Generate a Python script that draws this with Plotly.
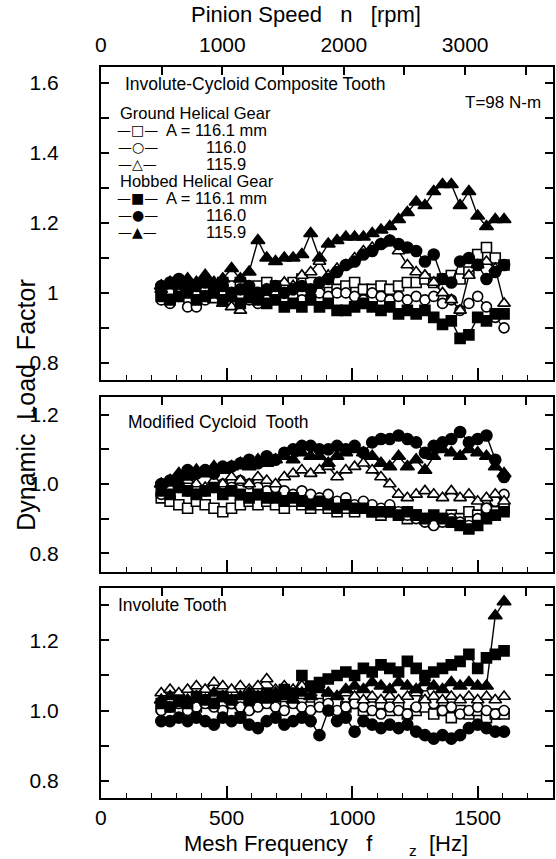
import plotly.graph_objects as go

# ---------------- data ----------------
TEETH = 29  # pinion teeth: mesh freq = n * z / 60
freq = [240, 275, 310, 345, 380, 415, 450, 485, 520, 555,
        590, 625, 660, 695, 730, 765, 800, 835, 870, 905,
        940, 975, 1010, 1045, 1080, 1115, 1150, 1185, 1220, 1255,
        1290, 1325, 1360, 1395, 1430, 1465, 1500, 1535, 1570, 1605]

# Panel 1: Involute-Cycloid Composite Tooth
top_GS = [1.00,1.01,1.00,1.02,1.01,1.02,1.00,1.03,1.02,1.03,1.01,1.02,1.03,1.02,1.01,1.03,1.04,1.03,1.02,1.03,
          1.01,1.02,1.03,1.01,1.01,1.02,1.01,1.02,1.03,1.03,1.04,1.03,1.04,1.05,1.04,1.06,1.11,1.13,1.10,1.08]
top_GC = [0.98,0.97,0.99,0.96,0.96,0.98,0.99,0.98,0.97,0.99,0.98,0.97,0.98,0.99,0.98,0.99,0.98,0.99,1.00,0.99,
          1.00,1.00,0.99,0.98,1.00,0.99,0.98,0.99,0.98,0.99,0.98,0.99,0.97,0.98,0.95,0.97,0.99,0.96,0.93,0.90]
top_GT = [1.01,1.02,1.00,1.01,1.00,0.99,0.98,0.97,0.96,0.95,0.98,0.99,1.01,1.00,1.03,1.02,1.05,1.06,1.09,1.05,
          1.07,1.08,1.10,1.12,1.13,1.14,1.15,1.12,1.08,1.06,1.05,1.03,1.00,0.98,0.95,1.05,1.08,1.09,1.07,0.97]
top_HS = [0.99,0.98,0.99,1.00,0.98,0.99,1.00,0.98,0.99,0.97,0.99,0.98,0.97,0.98,0.96,0.97,0.96,0.98,0.96,0.97,
          0.95,0.95,0.96,0.97,0.96,0.95,0.96,0.94,0.95,0.94,0.95,0.93,0.91,0.92,0.87,0.88,0.93,0.92,0.94,0.94]
top_HC = [1.02,1.03,1.04,1.03,1.02,1.03,1.01,1.02,1.00,1.01,1.02,1.00,1.01,1.02,1.00,1.01,1.02,1.01,1.03,1.04,
          1.06,1.08,1.09,1.11,1.12,1.14,1.15,1.14,1.13,1.12,1.09,1.11,1.04,1.03,1.09,1.10,1.08,1.04,1.06,1.08]
top_HT = [1.02,1.03,1.02,1.04,1.03,1.05,1.03,1.04,1.07,1.04,1.06,1.15,1.10,1.09,1.10,1.10,1.11,1.17,1.10,1.14,
          1.15,1.16,1.16,1.16,1.17,1.18,1.19,1.21,1.23,1.26,1.25,1.29,1.31,1.31,1.25,1.29,1.22,1.19,1.21,1.21]

# Panel 2: Modified Cycloid Tooth
mid_GS = [0.96,0.95,0.94,0.93,0.95,0.94,0.93,0.92,0.93,0.94,0.95,0.94,0.95,0.94,0.93,0.95,0.94,0.93,0.94,0.93,
          0.92,0.93,0.92,0.93,0.92,0.91,0.92,0.91,0.90,0.91,0.90,0.89,0.90,0.91,0.90,0.92,0.91,0.93,0.92,0.93]
mid_GC = [0.97,0.98,0.99,0.98,0.97,0.98,0.99,1.00,0.99,1.01,1.00,0.99,0.98,0.99,0.98,0.97,0.98,0.97,0.96,0.97,
          0.95,0.96,0.94,0.95,0.94,0.93,0.94,0.92,0.91,0.90,0.89,0.88,0.89,0.90,0.89,0.88,0.90,0.93,0.95,0.97]
mid_GT = [1.00,0.99,1.00,1.01,1.00,0.99,1.01,1.00,1.02,1.01,1.00,1.02,1.01,1.00,1.02,1.03,1.04,1.03,1.04,1.05,
          1.02,1.04,1.05,1.06,1.04,1.02,1.00,0.97,0.96,0.97,0.98,0.97,0.96,0.98,0.96,0.97,0.95,0.96,0.97,0.95]
mid_HS = [0.98,0.97,0.99,0.98,0.97,0.98,0.99,0.97,0.98,0.97,0.96,0.97,0.96,0.96,0.95,0.96,0.95,0.94,0.95,0.94,
          0.93,0.94,0.93,0.93,0.92,0.92,0.92,0.91,0.92,0.91,0.90,0.91,0.90,0.89,0.88,0.87,0.88,0.90,0.91,0.92]
mid_HC = [1.00,1.01,1.02,1.04,1.03,1.04,1.03,1.05,1.05,1.06,1.07,1.06,1.08,1.07,1.09,1.10,1.11,1.11,1.10,1.10,
          1.11,1.10,1.11,1.09,1.12,1.13,1.13,1.14,1.13,1.12,1.09,1.11,1.12,1.13,1.15,1.12,1.13,1.14,1.07,1.02]
mid_HT = [1.00,1.01,1.03,1.02,1.04,1.03,1.05,1.04,1.05,1.06,1.05,1.07,1.06,1.07,1.08,1.07,1.09,1.08,1.08,1.06,
          1.08,1.09,1.10,1.09,1.08,1.06,1.05,1.08,1.05,1.07,1.04,1.08,1.10,1.09,1.08,1.10,1.09,1.08,1.05,1.03]

# Panel 3: Involute Tooth
bot_GS = [1.01,1.02,1.03,1.02,1.01,1.03,1.02,1.04,1.02,1.03,1.01,1.02,1.03,1.02,1.04,1.03,1.02,1.01,1.02,1.03,
          1.02,1.01,1.02,1.00,1.01,1.02,1.00,1.01,0.99,1.00,1.01,0.99,1.00,0.98,1.00,0.99,1.00,0.98,0.99,0.99]
bot_GC = [1.00,1.01,1.02,1.00,1.01,1.02,1.01,1.00,1.02,1.01,1.00,1.01,1.02,1.01,1.00,1.02,1.01,1.00,1.01,1.02,
          1.00,1.01,1.02,1.01,1.00,0.99,1.01,1.00,0.99,1.01,1.07,1.02,1.00,1.01,0.99,1.00,1.01,1.00,0.99,1.00]
bot_GT = [1.05,1.06,1.05,1.06,1.07,1.06,1.08,1.07,1.06,1.07,1.06,1.07,1.09,1.06,1.07,1.06,1.07,1.05,1.06,1.05,
          1.04,1.05,1.04,1.03,1.04,1.03,1.04,1.03,1.04,1.05,1.03,1.04,1.03,1.04,1.03,1.04,1.03,1.04,1.03,1.04]
bot_HS = [1.02,1.01,1.03,1.02,1.04,1.03,1.02,1.04,1.03,0.98,1.03,1.04,1.05,1.04,1.06,1.05,1.10,1.07,1.08,1.09,
          1.10,1.11,1.10,1.12,1.11,1.13,1.12,1.11,1.14,1.12,1.10,1.11,1.12,1.13,1.14,1.16,1.12,1.15,1.16,1.17]
bot_HC = [0.97,0.97,0.98,0.97,0.98,0.97,0.96,0.98,0.97,0.98,0.96,0.95,0.97,0.98,0.96,0.97,0.98,0.97,0.93,1.00,
          0.97,0.98,0.94,0.97,0.96,0.95,0.96,0.95,0.96,0.94,0.93,0.92,0.93,0.92,0.93,0.95,0.96,0.95,0.94,0.94]
bot_HT = [1.03,1.04,1.02,1.03,1.04,1.03,1.05,1.04,1.03,1.04,1.05,1.04,1.03,1.05,1.04,1.03,1.05,1.04,1.06,1.05,
          1.04,1.06,1.07,1.06,1.08,1.07,1.06,1.08,1.07,1.06,1.08,1.07,1.06,1.08,1.07,1.08,1.07,1.07,1.27,1.31]

panels = [
    [top_GS, top_GC, top_GT, top_HS, top_HC, top_HT],
    [mid_GS, mid_GC, mid_GT, mid_HS, mid_HC, mid_HT],
    [bot_GS, bot_GC, bot_GT, bot_HS, bot_HC, bot_HT],
]
series_names = ["Ground A=116.1 mm", "Ground 116.0", "Ground 115.9",
                "Hobbed A=116.1 mm", "Hobbed 116.0", "Hobbed 115.9"]
symbols = ["square", "circle", "triangle-up", "square", "circle", "triangle-up"]
fills = ["white", "white", "white", "black", "black", "black"]
sizes = [10, 10, 11, 10, 11, 12]

panel_titles = ["Involute-Cycloid Composite Tooth", "Modified Cycloid\u00a0 Tooth", "Involute Tooth"]
y_ranges = [[0.751, 1.646], [0.746, 1.251], [0.751, 1.349]]
y_tickvals = [[0.8, 1.0, 1.2, 1.4, 1.6], [0.8, 1.0, 1.2], [0.8, 1.0, 1.2]]
y_ticktext = [["0.8", "1", "1.2", "1.4", "1.6"], ["0.8", "1.0", "1.2"], ["0.8", "1.0", "1.2"]]
hz_ticks = [0, 500, 1000, 1500]
rpm_labels = [0, 1000, 2000, 3000]

# ---------------- layout geometry ----------------
W, H = 556, 859
X0, X1 = 96, 553
panel_px = [(67, 380), (397, 572), (588, 798)]
FONT = "Liberation Sans, Arial, sans-serif"

def px_x(p):
    return p / W

def px_y(p):
    return 1 - p / H

fig = go.Figure()

for pi, data in enumerate(panels):
    xa = "x" if pi == 0 else f"x{pi+1}"
    ya = "y" if pi == 0 else f"y{pi+1}"
    for si in range(6):
        fig.add_trace(go.Scatter(
            x=freq, y=data[si], xaxis=xa, yaxis=ya, mode="lines+markers",
            name=series_names[si], showlegend=False,
            line=dict(color="black", width=1.4),
            marker=dict(symbol=symbols[si], size=sizes[si], color=fills[si],
                        line=dict(color="black", width=1.6)),
        ))
    # empty carrier trace so the top (rpm) axis of this panel is drawn
    fig.add_trace(go.Scatter(x=[None], y=[None], xaxis=f"x{pi+4}", yaxis=ya,
                             mode="markers", showlegend=False, hoverinfo="skip"))

layout = dict(
    width=W, height=H, margin=dict(l=0, r=0, t=0, b=0),
    paper_bgcolor="white", plot_bgcolor="white",
    font=dict(family=FONT, color="black", size=20),
    showlegend=False,
)

for pi in range(3):
    top, bot = panel_px[pi]
    dom_y = [px_y(bot), px_y(top)]
    xkey = "xaxis" if pi == 0 else f"xaxis{pi+1}"
    ykey = "yaxis" if pi == 0 else f"yaxis{pi+1}"
    xa = "x" if pi == 0 else f"x{pi+1}"
    ya = "y" if pi == 0 else f"y{pi+1}"
    layout[xkey] = dict(
        domain=[px_x(X0), px_x(X1)], range=[0, 1800], anchor=ya,
        showline=True, linewidth=2, linecolor="black", mirror=False,
        ticks="inside", ticklen=12, tickwidth=1.5, tickcolor="black",
        tickvals=hz_ticks, ticktext=[str(v) for v in hz_ticks],
        showticklabels=(pi == 2), tickfont=dict(size=21),
        minor=dict(ticks="inside", ticklen=5, tickwidth=1.3, dtick=100, tick0=0, tickcolor="black"),
        showgrid=False, zeroline=False, ticklabelstandoff=0,
    )
    layout[ykey] = dict(
        domain=dom_y, range=y_ranges[pi], anchor=xa,
        showline=True, linewidth=2, linecolor="black", mirror="ticks",
        ticks="inside", ticklen=8, tickwidth=1.5, tickcolor="black",
        tickvals=y_tickvals[pi], ticktext=y_ticktext[pi], tickfont=dict(size=21),
        minor=dict(ticks="inside", ticklen=8, tickwidth=1.5, dtick=0.1, tick0=0, tickcolor="black"),
        showgrid=False, zeroline=False, ticklabelstandoff=36,
    )
    rkey = f"xaxis{pi+4}"
    layout[rkey] = dict(
        overlaying=xa, anchor=ya, side="top",
        range=[0, 1800 * 60 / TEETH],
        showline=True, linewidth=2, linecolor="black",
        ticks="inside", ticklen=8, tickwidth=1.5, tickcolor="black",
        tickvals=rpm_labels, ticktext=[str(v) for v in rpm_labels],
        minor=dict(ticks="inside", ticklen=8, tickwidth=1.5, dtick=500, tick0=0, tickcolor="black"),
        showticklabels=(pi == 0), tickfont=dict(size=21),
        showgrid=False, zeroline=False, ticklabelstandoff=5,
    )

def ann(text, x, y, size=17, xanchor="left", family=FONT, **kw):
    return dict(text=text, x=px_x(x), y=px_y(y), xref="paper", yref="paper",
                xanchor=xanchor, yanchor="middle", showarrow=False,
                font=dict(size=size, family=family, color="black"), **kw)

nb = "\u00a0"
annotations = [
    ann(f"Pinion Speed{nb*3}n{nb*3}[rpm]", 303, 15, size=22, xanchor="center"),
    ann(f"Mesh Frequency{nb*3}f{nb*6}<sub>z</sub>{nb*2}[Hz]", 323, 845, size=22, xanchor="center"),
    ann(f"Dynamic{nb*2}Load{nb*2}Factor", 20, 405, size=25, xanchor="center", textangle=-90),
    ann(panel_titles[0], 118, 84, size=17.5),
    ann("T=98 N-m", 543, 103, size=17, xanchor="right"),
    ann(panel_titles[1], 121, 422, size=17.5),
    ann(panel_titles[2], 111, 605, size=17.5),
    ann("Ground Helical Gear", 113, 113, size=16.5),
    ann("Hobbed Helical Gear", 113, 181, size=16.5),
]
legend_rows = [
    ("\u2014\u25a1\u2014", "A = 116.1 mm", 130, 160),
    ("\u2014\u25cb\u2014", "116.0", 147, 200),
    ("\u2014\u25b3\u2014", "115.9", 164, 200),
    ("\u2014\u25a0\u2014", "A = 116.1 mm", 198, 160),
    ("\u2014\u25cf\u2014", "116.0", 215, 200),
    ("\u2014\u25b2\u2014", "115.9", 232, 200),
]
for glyph, label, yy, xt in legend_rows:
    annotations.append(ann(glyph, 133, yy, size=14, xanchor="center", family="DejaVu Sans"))
    annotations.append(ann(label, xt, yy, size=16.5))

layout["annotations"] = annotations
fig.update_layout(**layout)
fig.write_html("out.html")
